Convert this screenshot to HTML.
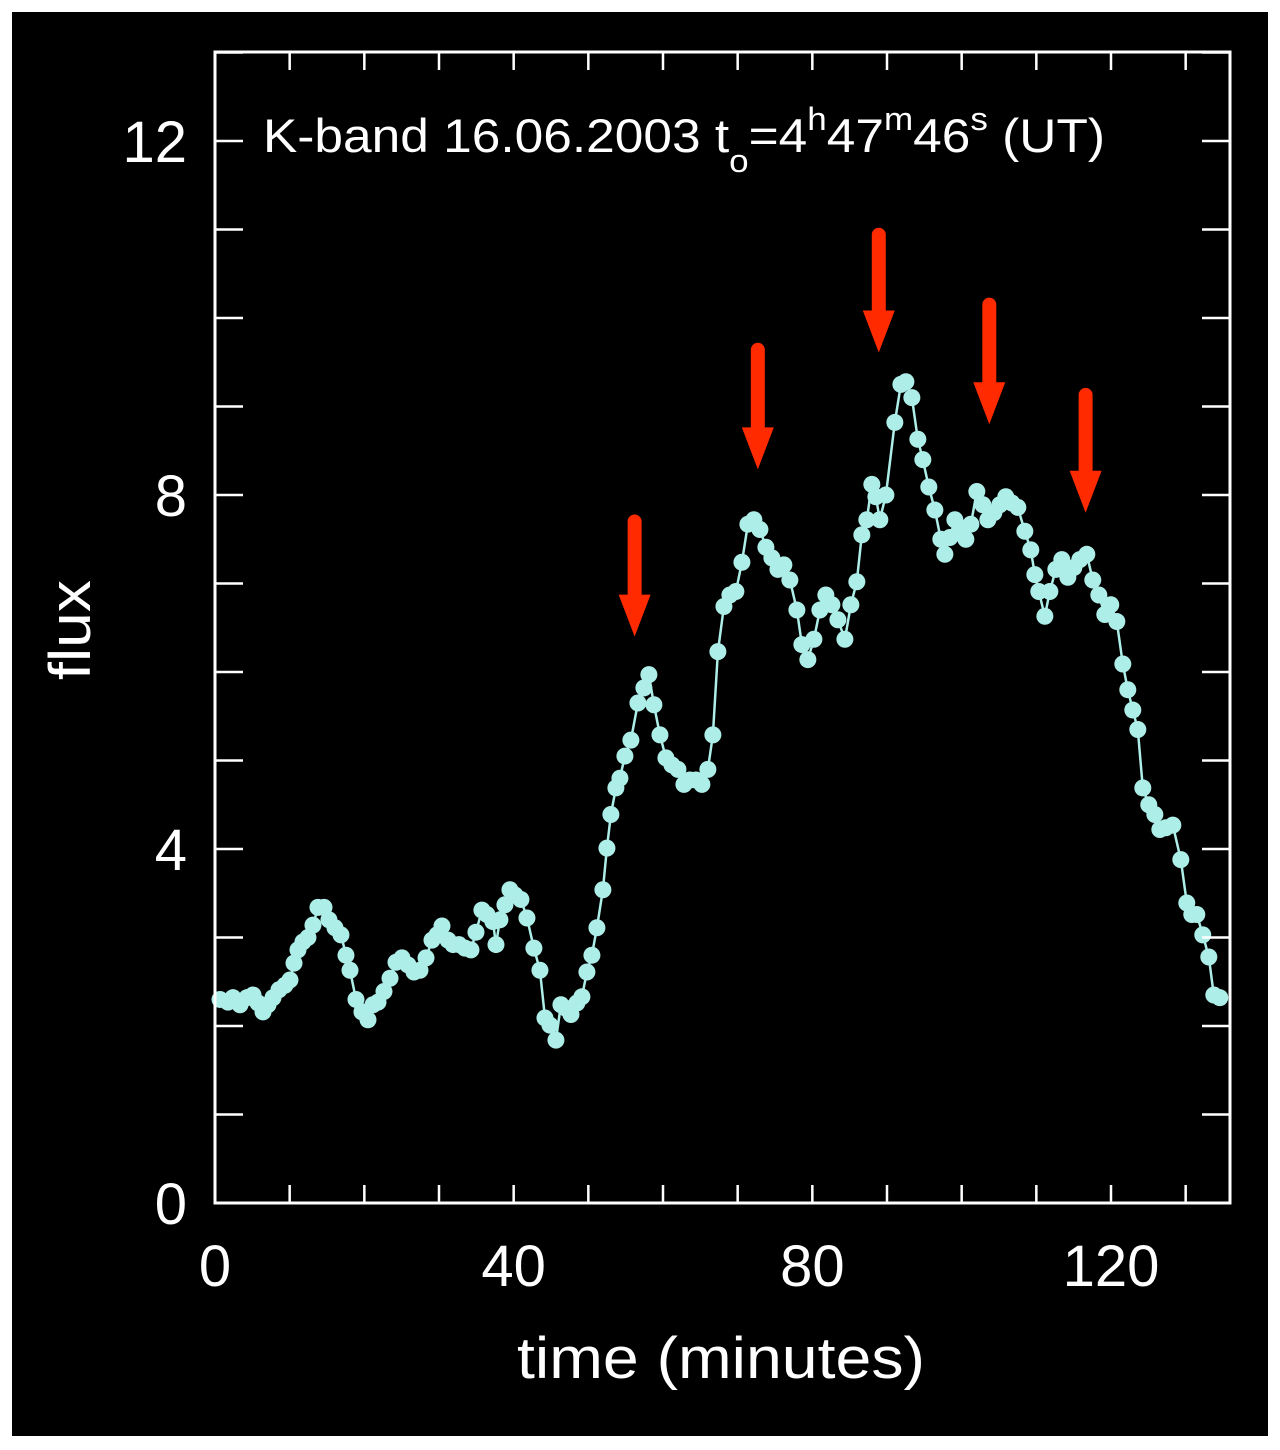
<!DOCTYPE html>
<html><head><meta charset="utf-8"><style>
html,body{margin:0;padding:0;background:#fff;}
svg{display:block;}
text{font-family:"Liberation Sans",Arial,sans-serif;fill:#fff;}
</style></head><body>
<svg id="chart" width="1280" height="1450" viewBox="0 0 1280 1450" xmlns="http://www.w3.org/2000/svg">
<rect x="12" y="12" width="1256" height="1424" fill="#000"/>
<g id="marks"></g>
<rect x="215" y="52" width="1015" height="1151" fill="none" stroke="#fff" stroke-width="3"/>
<g id="axes"></g>
<text x="263" y="152" font-size="47" textLength="842" lengthAdjust="spacingAndGlyphs">K-band 16.06.2003 t<tspan font-size="32" dy="20">o</tspan><tspan dy="-20">=4</tspan><tspan font-size="32" dy="-22">h</tspan><tspan dy="22">47</tspan><tspan font-size="32" dy="-22">m</tspan><tspan dy="22">46</tspan><tspan font-size="32" dy="-22">s</tspan><tspan dy="22"> (UT)</tspan></text>
<text x="0" y="0" font-size="58" text-anchor="middle" textLength="100" lengthAdjust="spacingAndGlyphs" transform="translate(90,630) rotate(-90)">flux</text>
<text x="721" y="1378" font-size="58" text-anchor="middle" textLength="408" lengthAdjust="spacingAndGlyphs">time (minutes)</text>
</svg>
<script>
const times=[0.67,1.74,2.41,3.35,4.28,5.09,5.76,6.43,7.10,7.77,8.57,9.37,10.04,10.58,11.11,11.78,12.45,13.12,13.79,14.60,15.26,16.07,16.87,17.54,18.08,18.88,19.68,20.49,21.16,21.83,22.63,23.44,24.24,25.04,25.85,26.65,27.45,28.26,29.06,29.73,30.40,31.21,31.88,32.67,33.47,34.28,34.95,35.75,36.42,37.22,37.63,38.16,38.83,39.50,40.17,40.97,41.78,42.71,43.52,44.19,44.86,45.66,46.33,47.00,47.67,48.47,49.14,49.81,50.48,51.15,51.95,52.49,53.02,53.69,54.23,54.90,55.70,56.64,57.44,58.11,58.78,59.59,60.39,61.19,62.00,62.80,63.60,64.41,65.21,66.01,66.68,67.35,68.16,68.96,69.76,70.57,71.37,72.17,72.98,73.78,74.58,75.39,76.19,76.99,77.93,78.60,79.40,80.21,81.01,81.81,82.62,83.42,84.36,85.16,85.96,86.63,87.30,87.97,88.51,89.04,89.85,91.05,91.86,92.53,93.33,94.13,94.80,95.60,96.41,97.21,97.75,98.42,99.09,99.76,100.56,101.23,102.03,102.84,103.51,104.31,105.11,105.91,106.72,107.52,108.46,109.26,109.80,110.33,111.14,111.81,112.61,113.41,114.22,115.02,115.82,116.76,117.56,118.37,119.17,119.97,120.78,121.58,122.25,122.92,123.59,124.26,125.06,125.87,126.54,127.34,128.28,129.35,130.15,130.82,131.49,132.29,133.10,133.77,134.57];
const flux=[2.30,2.27,2.32,2.24,2.32,2.35,2.26,2.16,2.24,2.32,2.41,2.46,2.52,2.71,2.86,2.95,3.00,3.14,3.34,3.34,3.20,3.11,3.03,2.80,2.63,2.30,2.16,2.07,2.24,2.27,2.39,2.54,2.72,2.77,2.69,2.61,2.63,2.77,2.97,3.03,3.13,2.97,2.92,2.92,2.88,2.86,3.06,3.31,3.26,3.18,2.92,3.20,3.37,3.54,3.48,3.43,3.22,2.88,2.63,2.09,2.01,1.84,2.24,2.20,2.13,2.26,2.33,2.61,2.80,3.11,3.54,4.01,4.39,4.69,4.80,5.05,5.23,5.65,5.82,5.97,5.63,5.29,5.03,4.95,4.90,4.73,4.78,4.78,4.73,4.90,5.29,6.23,6.74,6.87,6.91,7.24,7.67,7.72,7.61,7.41,7.29,7.16,7.21,7.04,6.70,6.31,6.14,6.37,6.70,6.87,6.76,6.59,6.37,6.76,7.02,7.55,7.72,8.12,7.98,7.72,8.00,8.82,9.25,9.28,9.10,8.63,8.40,8.09,7.83,7.50,7.33,7.52,7.72,7.63,7.50,7.67,8.04,7.89,7.72,7.80,7.89,7.98,7.91,7.86,7.59,7.38,7.10,6.91,6.63,6.91,7.16,7.27,7.07,7.18,7.27,7.33,7.04,6.87,6.65,6.76,6.57,6.09,5.80,5.57,5.35,4.69,4.50,4.39,4.22,4.24,4.27,3.88,3.39,3.26,3.26,3.03,2.78,2.35,2.32];
const arrowTimes=[56.2,72.7,88.9,103.7,116.6];
const arrowTip=[6.40,8.29,9.61,8.80,7.80];
const arrowTop=[7.78,9.72,11.02,10.23,9.21];
const xTickLabels=[0,40,80,120];
const yTickLabels=[0,4,8,12];
const xMinor=[0,10,20,30,40,50,60,70,80,90,100,110,120,130];
const yMinor=[0,1,2,3,4,5,6,7,8,9,10,11,12,13];

const NS="http://www.w3.org/2000/svg";
const X0=215,X1=1230,Y0=1203,Y1=52;
const xs=t=>X0+t*(1111-215)/120;
const ys=f=>Y0-f*(1203-141)/12;
function mk(tag,attrs,parent){const e=document.createElementNS(NS,tag);for(const k in attrs)e.setAttribute(k,attrs[k]);parent.appendChild(e);return e;}
const marks=document.getElementById('marks');
const axes=document.getElementById('axes');

let d=times.map((t,i)=>(i?'L':'M')+xs(t).toFixed(1)+','+ys(flux[i]).toFixed(1)).join(' ');
const line=mk('path',{d:d,fill:'none',stroke:'#aeeee8','stroke-width':2.5},marks);


times.forEach((t,i)=>{
  const c=mk('circle',{cx:xs(t),cy:ys(flux[i]),r:8.5,fill:'#aeeee8'},marks);
  
  
});
arrowTimes.forEach((t,i)=>{
  const x=xs(t),tip=ys(arrowTip[i]),top=ys(arrowTop[i]);
  const g=mk('g',{},marks);
  
  
  mk('line',{x1:x,y1:top+7,x2:x,y2:tip-30,stroke:'#ff2a00','stroke-width':14,'stroke-linecap':'round'},g);
  mk('polygon',{points:`${x-16},${tip-42} ${x+16},${tip-42} ${x},${tip}`,fill:'#ff2a00'},g);
});
xMinor.forEach(v=>{
  const x=xs(v);
  const a=mk('line',{x1:x,y1:Y0,x2:x,y2:Y0-18,stroke:'#fff','stroke-width':2.5},axes);
  
  
  const b=mk('line',{x1:x,y1:Y1,x2:x,y2:Y1+18,stroke:'#fff','stroke-width':2.5},axes);
  
  
});
yMinor.forEach(v=>{
  const y=ys(v);
  const a=mk('line',{x1:X0,y1:y,x2:X0+28,y2:y,stroke:'#fff','stroke-width':2.5},axes);
  
  
  const b=mk('line',{x1:X1,y1:y,x2:X1-28,y2:y,stroke:'#fff','stroke-width':2.5},axes);
  
  
});
xTickLabels.forEach(v=>{
  const t=mk('text',{x:xs(v),y:1286,'font-size':58,'text-anchor':'middle'},axes);
  t.textContent=v;
  
  
});
yTickLabels.forEach(v=>{
  const t=mk('text',{x:187,y:ys(v)+21,'font-size':58,'text-anchor':'end'},axes);
  t.textContent=v;
  
  
});
</script>
</body></html>
